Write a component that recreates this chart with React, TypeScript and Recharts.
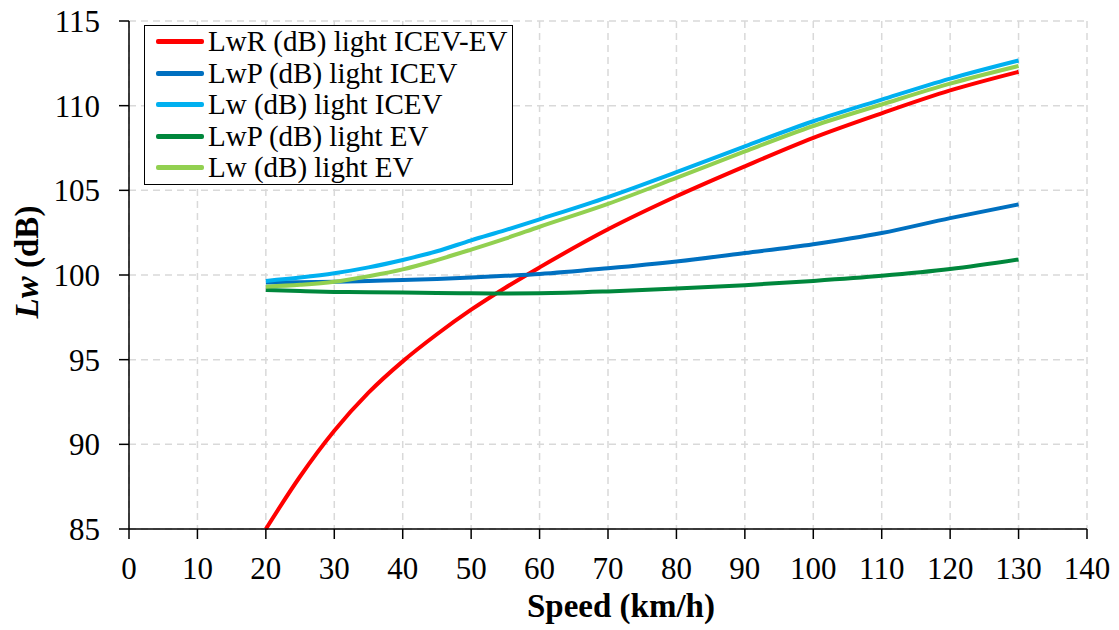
import { CartesianGrid, Label, Legend, Line, LineChart, XAxis, YAxis } from "recharts";

const speeds = [20, 25, 30, 35, 40, 45, 50, 55, 60, 70, 80, 90, 100, 110, 120, 130];
const lwrIcevEv = [85.0, 88.1, 90.8, 93.05, 94.9, 96.5, 97.95, 99.25, 100.45, 102.7, 104.65, 106.42, 108.1, 109.55, 110.9, 112.0];
const lwpIcev = [99.55, 99.57, 99.6, 99.65, 99.7, 99.77, 99.85, 99.95, 100.06, 100.4, 100.8, 101.3, 101.82, 102.48, 103.36, 104.17];
const lwIcev = [99.65, 99.85, 100.1, 100.45, 100.89, 101.4, 102.05, 102.65, 103.29, 104.6, 106.07, 107.6, 109.08, 110.36, 111.6, 112.67];
const lwpEv = [99.11, 99.05, 99.0, 98.98, 98.96, 98.94, 98.92, 98.91, 98.92, 99.03, 99.2, 99.4, 99.65, 99.95, 100.35, 100.92];
const lwEv = [99.31, 99.42, 99.6, 99.93, 100.33, 100.88, 101.5, 102.15, 102.85, 104.2, 105.73, 107.3, 108.8, 110.07, 111.3, 112.34];

const xTicks = [0, 10, 20, 30, 40, 50, 60, 70, 80, 90, 100, 110, 120, 130, 140];
const yTicks = [85, 90, 95, 100, 105, 110, 115];

const series = [
  { key: "lwrIcevEv", name: "LwR (dB) light ICEV-EV", color: "#ff0000" },
  { key: "lwpIcev", name: "LwP (dB) light ICEV", color: "#0070c0" },
  { key: "lwIcev", name: "Lw (dB) light ICEV", color: "#00b0f0" },
  { key: "lwpEv", name: "LwP (dB) light EV", color: "#00873c" },
  { key: "lwEv", name: "Lw (dB) light EV", color: "#92d050" },
];

const data = speeds.map((speed, i) => ({
  speed,
  lwrIcevEv: lwrIcevEv[i],
  lwpIcev: lwpIcev[i],
  lwIcev: lwIcev[i],
  lwpEv: lwpEv[i],
  lwEv: lwEv[i],
}));

const FONT = '"Liberation Serif", "Times New Roman", serif';

function XTick({ x, y, payload }: any) {
  return (
    <text x={x} y={y + 40} textAnchor="middle" style={{ fontFamily: FONT, fontSize: 31 }} fill="#000">
      {payload.value}
    </text>
  );
}

function YTick({ x, y, payload }: any) {
  return (
    <text x={x - 19} y={y + 11} textAnchor="end" style={{ fontFamily: FONT, fontSize: 31 }} fill="#000">
      {payload.value}
    </text>
  );
}

function LegendBox() {
  return (
    <div
      style={{
        border: "1.5px solid #000",
        background: "#fff",
        padding: "0px 5px 0px 11px",
        fontFamily: FONT,
        fontSize: 29,
        color: "#000",
      }}
    >
      {series.map((s) => (
        <div key={s.key} style={{ display: "flex", alignItems: "center", height: 31.5 }}>
          <span style={{ display: "inline-block", width: 48, height: 5, borderRadius: 2, background: s.color, marginRight: 4 }} />
          <span style={{ whiteSpace: "nowrap" }}>{s.name}</span>
        </div>
      ))}
    </div>
  );
}

export default function App() {
  return (
    <div style={{ position: "absolute", left: 0, top: 0, width: 1119, height: 630 }}>
      <LineChart width={1119} height={630} data={data} margin={{ top: 21, right: 32, left: 0, bottom: 0 }}>
        <CartesianGrid stroke="#d9d9d9" strokeWidth={1.5} strokeDasharray="7 5" />
        <XAxis
          dataKey="speed"
          type="number"
          domain={[0, 140]}
          ticks={xTicks}
          height={101}
          tickSize={10}
          tickMargin={0}
          stroke="#000"
          strokeWidth={1.5}
          tick={<XTick />}
        >
          <Label
            content={({ viewBox }: any) => (
              <text
                x={621}
                y={viewBox.y + 88}
                textAnchor="middle"
                style={{ fontFamily: FONT, fontSize: 33, fontWeight: "bold" }}
                fill="#000"
              >
                Speed (km/h)
              </text>
            )}
          />
        </XAxis>
        <YAxis
          type="number"
          domain={[85, 115]}
          ticks={yTicks}
          width={129}
          tickSize={10}
          tickMargin={0}
          stroke="#000"
          strokeWidth={1.5}
          tick={<YTick />}
        >
          <Label
            content={() => {
              const cx = 27;
              const cy = 262;
              return (
                <text
                  x={cx}
                  y={cy + 11}
                  textAnchor="middle"
                  transform={`rotate(-90, ${cx}, ${cy})`}
                  style={{ fontFamily: FONT, fontSize: 33, fontWeight: "bold" }}
                  fill="#000"
                >
                  <tspan style={{ fontStyle: "italic" }}>Lw</tspan> (dB)
                </text>
              );
            }}
          />
        </YAxis>
        <Legend
          layout="vertical"
          align="center"
          verticalAlign="middle"
          wrapperStyle={{ left: 144, top: 25, width: "auto" }}
          content={() => <LegendBox />}
        />
        {series.map((s) => (
          <Line
            key={s.key}
            type="monotone"
            dataKey={s.key}
            name={s.name}
            stroke={s.color}
            strokeWidth={4}
            dot={false}
            isAnimationActive={false}
          />
        ))}
      </LineChart>
    </div>
  );
}
